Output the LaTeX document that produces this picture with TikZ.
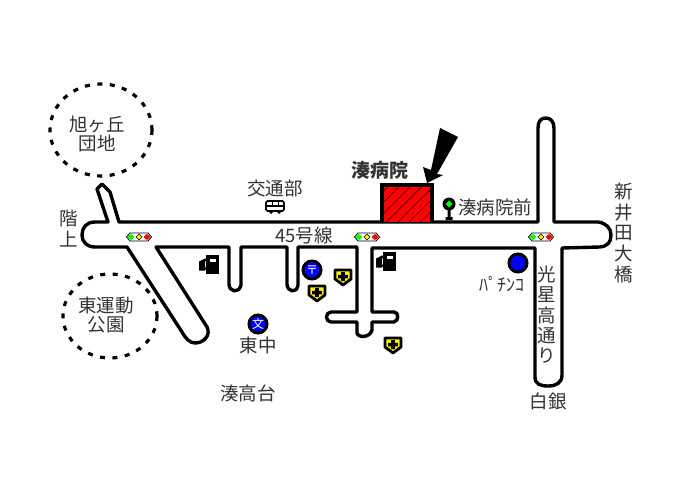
\documentclass[tikz,border=0pt]{standalone}
\usepackage{fontspec}
\setmainfont{Noto Sans CJK JP}
\usetikzlibrary{patterns.meta}
\renewcommand{\arraystretch}{0.94}
\newcommand{\vtxt}[1]{\begin{tabular}{@{}c@{}}#1\end{tabular}}
\tikzset{
  x=1pt,y=-1pt,
  road/.style={draw=black,line width=3.4pt,line join=round,line cap=round},
  dashring/.style={draw=black,line width=3.2pt,dash pattern=on 5pt off 7.5pt},
  lab/.style={font=\fontsize{18.5}{19}\selectfont,inner sep=0pt,align=center,text=black!80},
  disc/.style={circle,draw=black,fill=blue,line width=3pt,minimum size=18pt,inner sep=0pt,text=white,font=\fontsize{12}{12}\selectfont},
  signal/.pic={
    \draw[black,line width=.8pt,fill=white] (-12.5,0)--(-9,-4)--(9,-4)--(12.5,0)--(9,4)--(-9,4)--cycle;
    \fill[green] (-8,-3.2)--(-4.6,0)--(-8,3.2)--(-11.4,0)--cycle;
    \fill[yellow,draw=black,line width=.4pt] (0,-3)--(3,0)--(0,3)--(-3,0)--cycle;
    \fill[red] (8,-3.2)--(11.4,0)--(8,3.2)--(4.6,0)--cycle;
  },
  shield/.pic={
    \draw[black,fill=yellow,line width=2.8pt,line join=round] (-8,-7)--(8,-7)--(8,2)--(0,8)--(-8,2)--cycle;
    \fill[black] (-1.8,-5)rectangle(1.8,4) (-4.8,-2.2)rectangle(4.8,1.4);
  },
  pump/.pic={
    \fill[black] (-3,-9.5)rectangle(10,9.5);
    \fill[white] (1,-6)rectangle(7,-3);
    \fill[black] (-10,-3)--(-4,-6)--(-3,-6)--(-3,-3.5)--(-4,-3.5)--(-4,3)--(-3,3)--(-3,5)--(-4,5)--(-4,6)--(-10,6)--cycle;
  },
}
\begin{document}
\begin{tikzpicture}
\useasboundingbox (0,0) rectangle (688,484);
\fill[white] (0,0) rectangle (688,484);
% roads
\draw[road] (119,222)--(110,192)--(102,184)--(97,189)--(108,222)--(95,222)
  .. controls (86,222) and (82,228) .. (82,235)
  .. controls (82,242) and (87,247) .. (95,247)
  --(127,247)--(182,332)
  .. controls (186,339) and (190,343) .. (195,343)
  .. controls (204,343) and (211,335) .. (207,327)
  --(156,247)--(229,247)--(229,284)
  .. controls (229,292) and (239,294) .. (241,285)
  --(241,247)--(287,247)--(287,284)
  .. controls (287,292) and (297,294) .. (298,285)
  --(298,247)--(357,247)--(357,312)--(331,312)
  .. controls (325,312) and (325,322) .. (331,322)
  --(357,322)--(357,333)
  .. controls (358,338) and (370,338) .. (372,330)
  --(372,322)--(394,322)
  .. controls (399,321) and (399,312) .. (394,312)
  --(372,312)--(372,248)--(535,248)--(535,377)
  .. controls (535,384) and (540,386) .. (548,386)
  .. controls (556,386) and (562,383) .. (562,375)
  --(562,248)--(600,247)
  .. controls (608,246) and (611,242) .. (611,235)
  .. controls (611,228) and (606,223) .. (598,222)
  --(554,222)--(554,128)
  .. controls (554,121) and (550,118) .. (546,118)
  .. controls (541,118) and (538,121) .. (538,128)
  --(538,222)--cycle;
% dashed districts
\draw[dashring] (101,130) ellipse [x radius=51,y radius=46];
\draw[dashring] (110,316) ellipse [x radius=47,y radius=42];
% hospital
\fill[red] (382,185) rectangle (432,222);
\fill[pattern={Lines[angle=45,distance=8pt,line width=.45pt]},pattern color=black] (382,185) rectangle (432,222);
\draw[black,line width=3.4pt,line join=miter] (382,222)--(382,185)--(432,185)--(432,222);
% arrow
\fill[black] (427,183)--(423,167)--(431,170)--(440,128)--(458,137)--(437,174)--(443,175)--cycle;
% signals
\path (139,237) pic {signal} (367,237) pic {signal} (541,237) pic {signal};
% pumps
\path (209,264.5) pic {pump} (386,261.5) pic {pump};
% shields
\path (343,277) pic {shield} (317,293) pic {shield} (393,345) pic {shield};
% discs
\node[disc] (post) at (312,270) {〒};
\node[disc] (school) at (258,324) {文};
\node[disc] (pachinko) at (518,263) {};
% bus
\draw[black,line width=1.6pt,fill=white,rounded corners=1.5pt] (266,201)rectangle(284,211);
\fill[black] (266,205)rectangle(284,207);
\draw[black,line width=1pt] (272,201)--(272,205) (278,201)--(278,205);
\fill[black] (268,211)--(274,211)--(271,214)--cycle (276,211)--(282,211)--(279,214)--cycle;
% bus-stop tree
\fill[black] (449,204) circle (6.5pt);
\fill[black] (447.5,208)rectangle(450.5,218) (445.5,217)rectangle(452.5,220);
\fill[green] (449,200.5)--(452.5,204)--(449,207.5)--(445.5,204)--cycle;
% labels
\node[lab] (asahi) at (97,134) {旭ヶ丘\\団地};
\node[lab] (higashi) at (106,315) {東運動\\公園};
\node[lab] (kaijo) at (69,231) {\vtxt{階\\上}};
\node[lab] (kotsu) at (275,188) {交通部};
\node[lab] (r45) at (304,235) {45号線};
\node[lab,font=\fontsize{19}{19}\selectfont\bfseries] (hosp) at (380,170) {湊病院};
\node[lab] (stop) at (495,207) {湊病院前};
\node[lab] (arai) at (624,235) {\vtxt{新\\井\\田\\大\\橋}};
\node[lab] (kosei) at (547,317) {\vtxt{光\\星\\高\\通\\り}};
\node[lab] (shirogane) at (548,401) {白銀};
\node[lab,font=\fontsize{18}{18}\selectfont] (pach) at (502,284) {ﾊﾟﾁﾝｺ};
\node[lab] (tochu) at (258,345) {東中};
\node[lab] (takadai) at (248,393) {湊高台};
\end{tikzpicture}
\end{document}
